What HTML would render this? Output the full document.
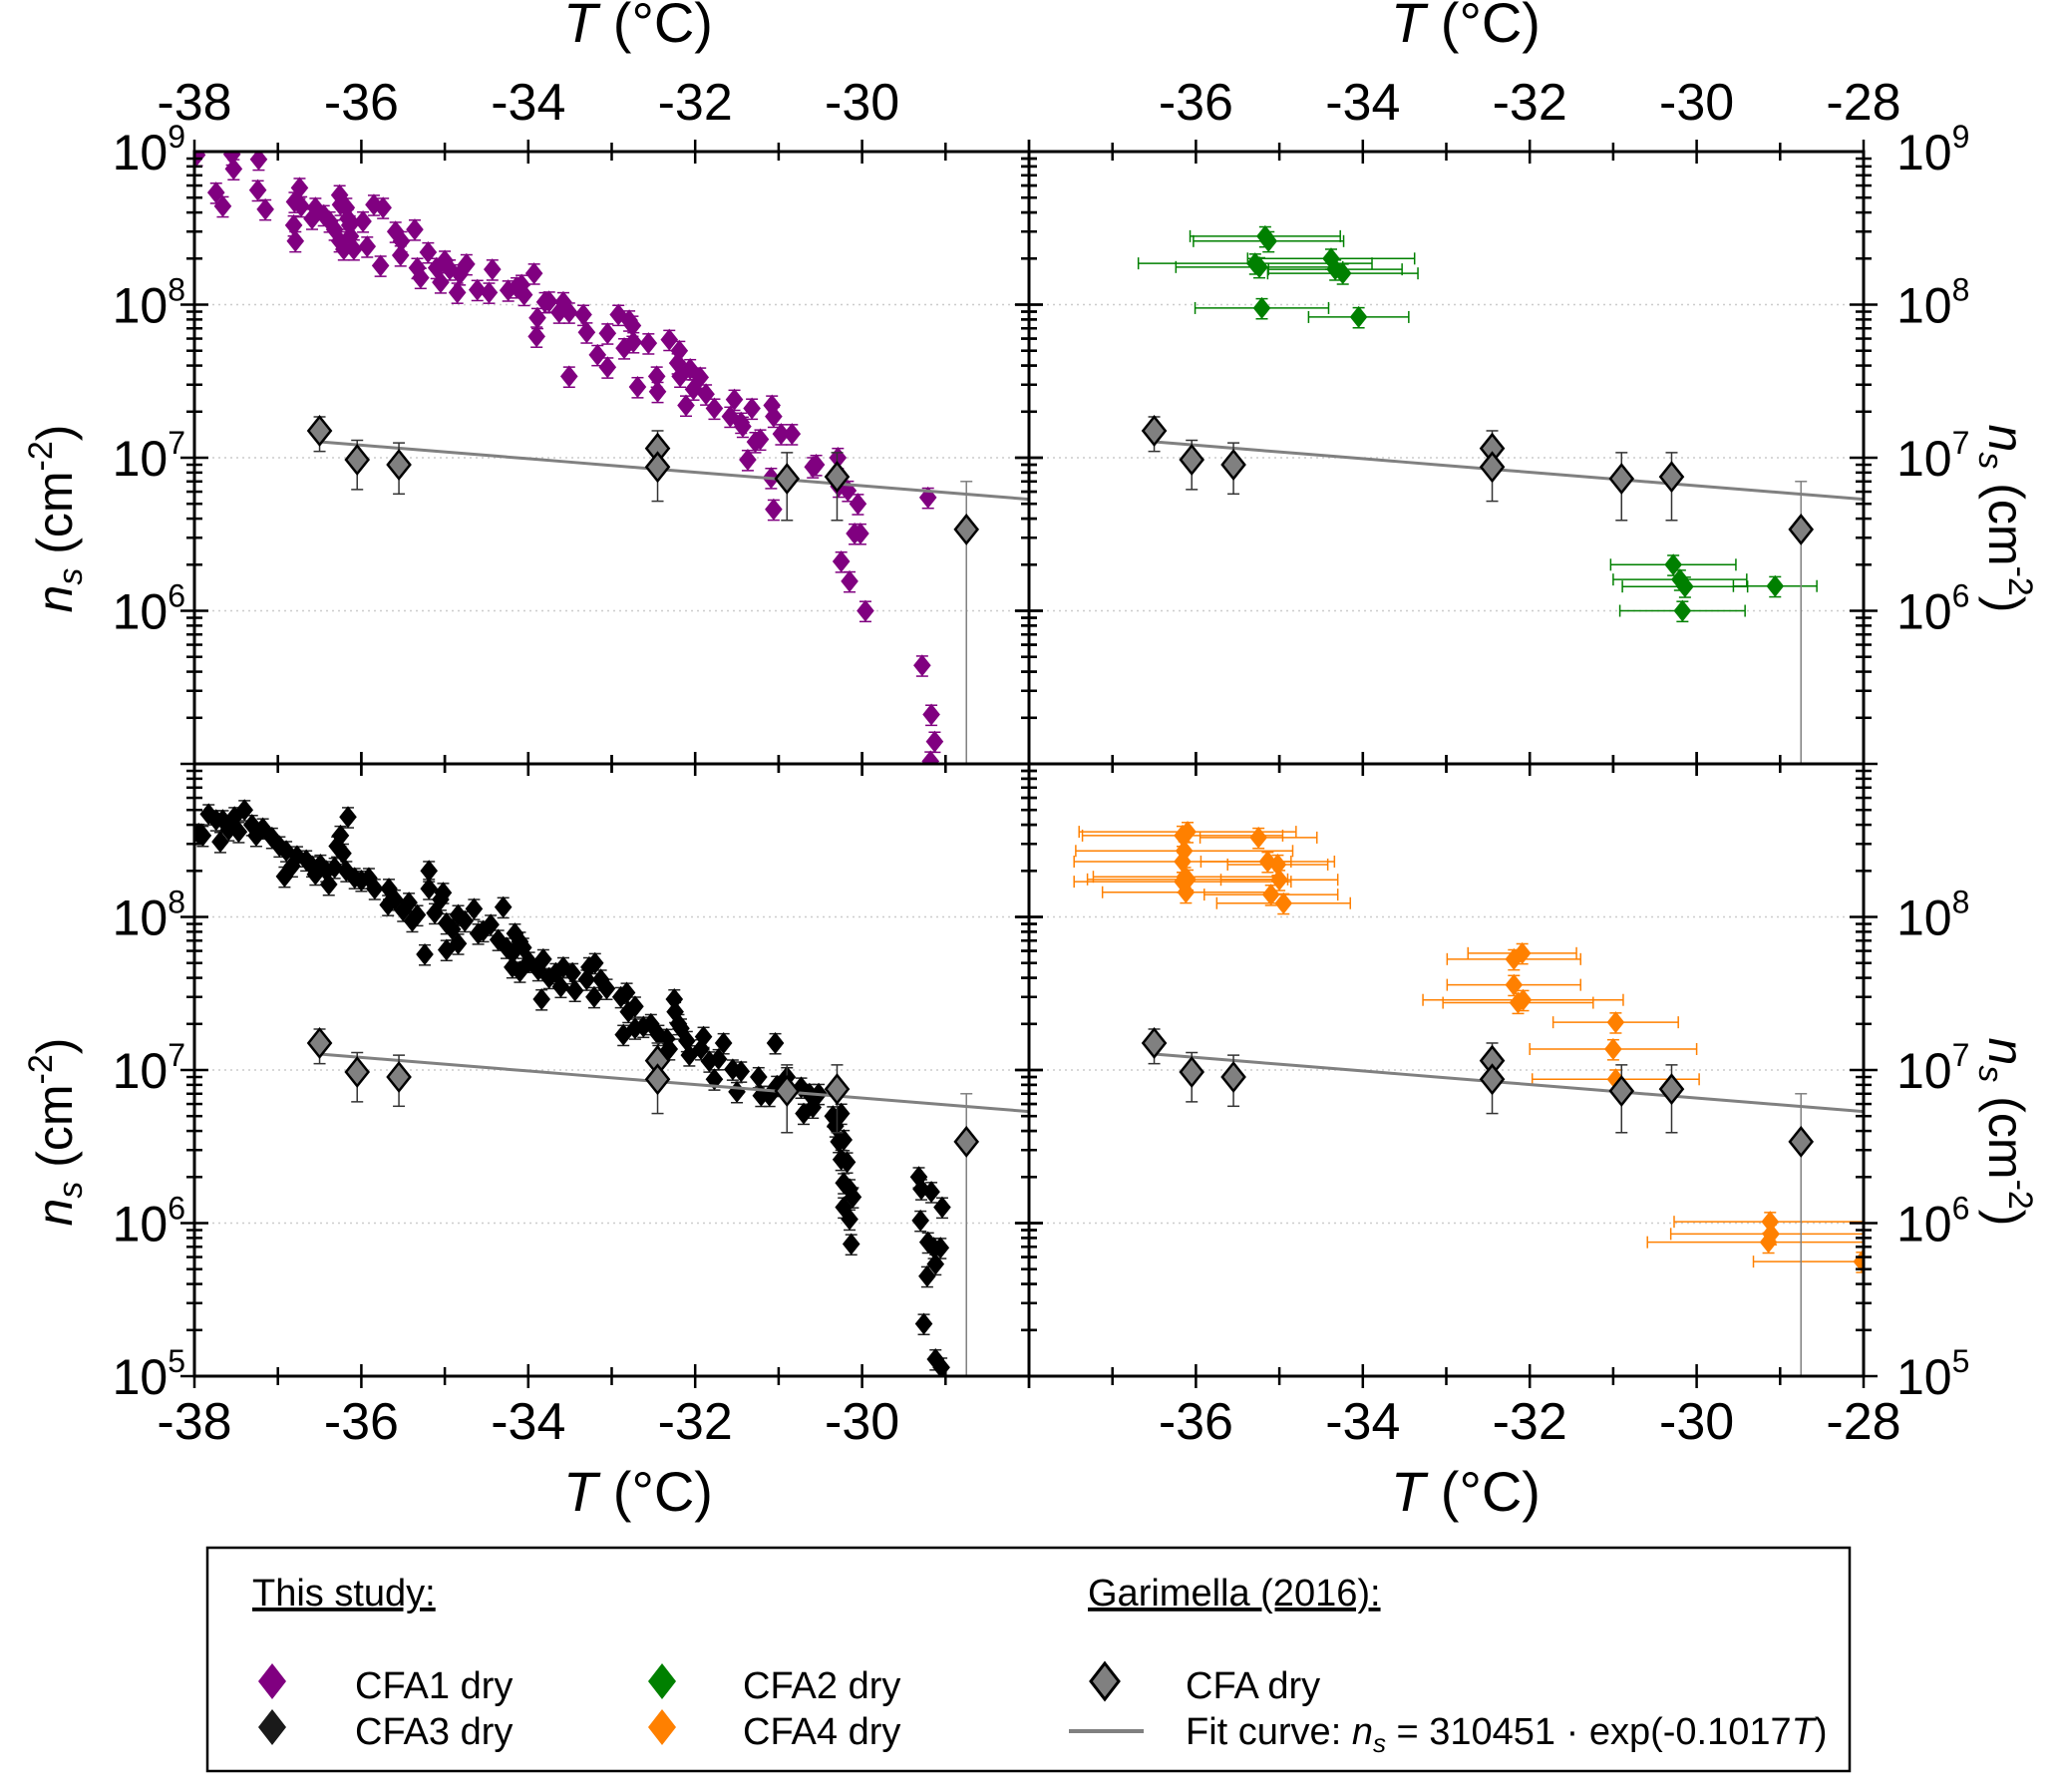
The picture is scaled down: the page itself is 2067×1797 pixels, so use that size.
<!DOCTYPE html>
<html><head><meta charset="utf-8"><style>
html,body{margin:0;padding:0;background:#fff;}
svg{display:block;font-family:"Liberation Sans",Arial,sans-serif;}
</style></head><body>
<svg id="chart" width="2067" height="1797" viewBox="0 0 2067 1797" xmlns="http://www.w3.org/2000/svg">
<g id="grid"></g>
<g id="series"></g>
<g id="axes"></g>
<g id="labels"></g>
<g id="legend">
  <rect x="208" y="1552" width="1647" height="224" fill="#fff" stroke="#000" stroke-width="2.5"/>
  <text x="253" y="1610" font-size="38" text-decoration="underline">This study:</text>
  <text x="1091" y="1610" font-size="38" text-decoration="underline">Garimella (2016):</text>
  <g><path d="M273,1668 l14,18 l-14,18 l-14,-18z" fill="#800080"/><text x="356" y="1703" font-size="38">CFA1 dry</text></g>
  <g><path d="M273,1714 l14,18 l-14,18 l-14,-18z" fill="#1a1a1a"/><text x="356" y="1749" font-size="38">CFA3 dry</text></g>
  <g><path d="M664,1668 l14,18 l-14,18 l-14,-18z" fill="#008000"/><text x="745" y="1703" font-size="38">CFA2 dry</text></g>
  <g><path d="M664,1714 l14,18 l-14,18 l-14,-18z" fill="#ff8000"/><text x="745" y="1749" font-size="38">CFA4 dry</text></g>
  <g><path d="M1108,1668 l14,18 l-14,18 l-14,-18z" fill="#808080" stroke="#000" stroke-width="3"/><text x="1189" y="1703" font-size="38">CFA dry</text></g>
  <g><line x1="1072" y1="1736" x2="1147" y2="1736" stroke="#808080" stroke-width="4"/><text x="1189" y="1749" font-size="38">Fit curve: <tspan font-style="italic">n</tspan><tspan font-size="26" dy="8" font-style="italic">s</tspan><tspan dy="-8"> = 310451 · exp(-0.1017</tspan><tspan font-style="italic">T</tspan>)</text></g>
</g>
</svg>
<script>
// ---- data ----
const garT = [-36.5, -36.05, -35.55, -32.45, -32.45, -30.9, -30.3, -28.75];
const garN = [1.5e7, 9.7e6, 9.0e6, 1.15e7, 8.7e6, 7.3e6, 7.5e6, 3.4e6];
const garLo = [1.1e7, 6.2e6, 5.8e6, 8.7e6, 5.2e6, 3.9e6, 3.9e6, 1e5];
const garHi = [1.85e7, 1.3e7, 1.25e7, 1.5e7, 1.15e7, 1.08e7, 1.08e7, 7.0e6];
const fitA = 310451;
const fitB = -0.1017;
const fitRange = [-36.5, -28];

const cfa1T = [-37.97,-37.74,-37.66,-37.55,-37.53,-37.23,-37.24,-37.15,-36.81,-36.79,-36.80,-36.74,-36.72,-36.59,-36.55,-36.45,-36.38,-36.32,-36.26,-36.25,-36.26,-36.21,-36.18,-36.16,-36.14,-36.13,-36.09,-35.98,-35.93,-35.85,-35.74,-35.77,-35.59,-35.52,-35.53,-35.36,-35.33,-35.29,-35.20,-35.10,-35.05,-35.00,-34.94,-34.82,-34.74,-34.85,-34.61,-34.47,-34.43,-34.24,-34.14,-34.08,-34.05,-33.93,-33.89,-33.90,-33.80,-33.75,-33.63,-33.58,-33.51,-33.51,-33.34,-33.30,-33.17,-33.05,-33.05,-32.92,-32.85,-32.79,-32.75,-32.74,-32.69,-32.56,-32.46,-32.45,-32.31,-32.19,-32.21,-32.18,-32.11,-32.06,-32.02,-31.94,-31.87,-31.77,-31.58,-31.53,-31.45,-31.43,-31.37,-31.32,-31.28,-31.22,-31.08,-31.06,-30.97,-30.84,-31.09,-31.06,-30.59,-30.55,-30.29,-30.28,-30.17,-30.05,-30.09,-30.02,-30.25,-30.15,-29.96,-29.28,-29.17,-29.13,-29.18,-29.21];
const cfa1N = [9.5e8,5.4e8,4.4e8,9.6e8,7.7e8,8.9e8,5.6e8,4.2e8,3.3e8,2.6e8,4.7e8,5.8e8,4.4e8,3.65e8,4.3e8,3.85e8,3.5e8,3.1e8,5.2e8,4.5e8,2.6e8,2.3e8,4.3e8,3.65e8,3.3e8,2.8e8,2.3e8,3.5e8,2.4e8,4.5e8,4.3e8,1.8e8,3.0e8,2.6e8,2.1e8,3.1e8,1.74e8,1.5e8,2.2e8,1.74e8,1.4e8,1.94e8,1.7e8,1.58e8,1.84e8,1.2e8,1.25e8,1.2e8,1.7e8,1.24e8,1.3e8,1.35e8,1.16e8,1.6e8,8.2e7,6.2e7,1.04e8,1.05e8,8.9e7,1.04e8,8.9e7,3.4e7,8.6e7,6.6e7,4.7e7,6.5e7,3.9e7,8.6e7,5.2e7,7.9e7,7.3e7,5.7e7,2.9e7,5.6e7,3.4e7,2.7e7,5.9e7,5.0e7,4.15e7,3.4e7,2.2e7,3.8e7,2.8e7,3.35e7,2.6e7,2.1e7,1.86e7,2.4e7,1.7e7,1.6e7,9.7e6,2.1e7,1.27e7,1.32e7,2.2e7,1.86e7,1.43e7,1.43e7,7.4e6,4.6e6,8.7e6,9.0e6,1.0e7,6.5e6,6.1e6,5.0e6,3.2e6,3.2e6,2.1e6,1.56e6,1.0e6,4.4e5,2.1e5,1.4e5,1.04e5,5.5e6];

const cfa3T = [-37.95,-37.90,-37.83,-37.74,-37.69,-37.66,-37.59,-37.52,-37.47,-37.40,-37.31,-37.26,-37.18,-37.07,-36.98,-36.90,-36.92,-36.83,-36.77,-36.66,-36.59,-36.55,-36.49,-36.42,-36.39,-36.32,-36.29,-36.25,-36.22,-36.16,-36.18,-36.08,-36.00,-35.91,-35.84,-35.68,-35.67,-35.60,-35.50,-35.43,-35.39,-35.33,-35.24,-35.19,-35.19,-35.12,-35.05,-35.02,-34.98,-34.98,-34.91,-34.84,-34.84,-34.76,-34.65,-34.60,-34.54,-34.45,-34.36,-34.30,-34.26,-34.19,-34.16,-34.10,-34.06,-34.19,-34.10,-33.99,-33.88,-33.84,-33.82,-33.75,-33.67,-33.61,-33.58,-33.47,-33.44,-33.30,-33.27,-33.20,-33.21,-33.13,-33.06,-32.89,-32.82,-32.72,-32.80,-32.86,-32.72,-32.62,-32.53,-32.44,-32.34,-32.31,-32.25,-32.24,-32.20,-32.17,-32.10,-32.07,-31.93,-31.90,-31.83,-31.77,-31.72,-31.66,-31.55,-31.50,-31.45,-31.24,-31.21,-31.11,-31.04,-31.02,-30.90,-30.73,-30.70,-30.63,-30.59,-30.52,-30.35,-30.32,-30.25,-30.28,-30.22,-30.25,-30.18,-30.22,-30.15,-30.11,-30.22,-30.15,-30.13,-29.32,-29.29,-29.17,-29.04,-29.30,-29.21,-29.14,-29.06,-29.12,-29.22,-29.26,-29.12,-29.05];
const cfa3N = [3.5e8,3.4e8,4.7e8,4.3e8,3.1e8,4.3e8,3.7e8,4.5e8,3.6e8,5.0e8,4.0e8,3.4e8,3.8e8,3.3e8,2.9e8,2.7e8,1.84e8,2.15e8,2.5e8,2.35e8,2.15e8,1.9e8,2.2e8,2.0e8,1.63e8,2.1e8,2.9e8,3.4e8,2.6e8,4.5e8,2.0e8,1.8e8,1.73e8,1.8e8,1.53e8,1.2e8,1.53e8,1.3e8,1.1e8,1.24e8,9.4e7,1.03e8,5.7e7,2.0e8,1.53e8,1.06e8,1.3e8,1.44e8,9.1e7,6.1e7,8.3e7,1.03e8,6.7e7,9.4e7,1.13e8,7.8e7,8.1e7,8.9e7,7.1e7,1.16e8,6.3e7,5.8e7,7.8e7,6.9e7,6.3e7,4.7e7,4.4e7,5.1e7,4.5e7,2.9e7,5.3e7,4.0e7,4.3e7,3.5e7,4.7e7,4.3e7,3.3e7,3.9e7,4.7e7,5.0e7,3.0e7,3.9e7,3.4e7,3.0e7,3.2e7,2.6e7,2.4e7,1.7e7,1.87e7,1.92e7,2.0e7,1.7e7,1.6e7,1.37e7,2.9e7,2.4e7,2.0e7,1.87e7,1.55e7,1.25e7,1.37e7,1.65e7,1.14e7,8.7e6,1.18e7,1.5e7,1.01e7,7.2e6,9.8e6,9.0e6,6.8e6,6.8e6,1.5e7,7.9e6,9.0e6,7.7e6,5.2e6,7.0e6,5.7e6,7.0e6,5.0e6,4.3e6,5.2e6,3.4e6,3.5e6,2.6e6,2.5e6,1.83e6,1.67e6,1.48e6,1.27e6,1.06e6,7.3e5,2.0e6,1.67e6,1.6e6,1.27e6,1.04e6,7.5e5,6.9e5,6.9e5,5.4e5,4.5e5,2.2e5,1.29e5,1.14e5];

const cfa2T = [-35.17,-35.13,-34.38,-34.33,-34.24,-35.29,-35.24,-35.21,-34.05,-30.28,-30.20,-30.14,-29.06,-30.17];
const cfa2N = [2.8e8,2.6e8,2.0e8,1.7e8,1.6e8,1.86e8,1.76e8,9.5e7,8.3e7,2.0e6,1.6e6,1.44e6,1.45e6,1.0e6];
const cfa2Terr = [0.9,0.9,1.0,0.8,0.9,1.4,1.0,0.8,0.6,0.75,0.8,0.75,0.5,0.75];

const cfa4T = [-36.10,-36.16,-36.14,-36.16,-36.13,-36.16,-36.10,-36.12,-35.25,-35.14,-35.02,-35.00,-35.10,-34.95,-32.09,-32.19,-32.19,-32.08,-32.14,-30.97,-31.00,-30.97,-29.12,-29.11,-29.14,-28.02];
const cfa4N = [3.6e8,3.4e8,2.7e8,2.3e8,1.83e8,1.7e8,1.76e8,1.45e8,3.3e8,2.3e8,2.2e8,1.75e8,1.4e8,1.23e8,5.8e7,5.3e7,3.6e7,2.87e7,2.75e7,2.05e7,1.37e7,8.7e6,1.02e6,8.5e5,7.5e5,5.6e5];
const cfa4Terr = [1.3,1.2,1.3,1.3,1.1,1.3,1.2,1.0,0.7,0.8,0.6,0.7,0.8,0.8,0.65,0.8,0.8,1.2,0.9,0.75,1.0,1.0,1.15,1.2,1.45,1.3];
const relErr = 0.15;

const xTicksTopLeft = [-38,-36,-34,-32,-30];
const xTicksTopRight = [-36,-34,-32,-30,-28];
const yTicksTop = [9,8,7,6];
const yTicksBottom = [8,7,6,5];

// ---- layout ----
const NS='http://www.w3.org/2000/svg';
const PX = [195, 1032];
const PW = 837;
const PY = [152, 766];
const PH = 614;
const TMIN=-38, TMAX=-28, LMIN=5, LMAX=9;
function xs(T, col){ return PX[col] + (T-TMIN)/(TMAX-TMIN)*PW; }
function ys(v, row){ return PY[row] + (LMAX-Math.log10(v))/(LMAX-LMIN)*PH; }
function mk(tag, attrs, parent){ const e=document.createElementNS(NS,tag); for(const k in attrs) e.setAttribute(k,attrs[k]); parent.appendChild(e); return e; }
const gGrid=document.getElementById('grid'), gSer=document.getElementById('series'), gAx=document.getElementById('axes'), gLab=document.getElementById('labels');

const defs=mk('defs',{},document.getElementById('chart'));
for(let r=0;r<2;r++)for(let c=0;c<2;c++){
  const cp=mk('clipPath',{id:'clip'+r+c},defs);
  mk('rect',{x:PX[c],y:PY[r],width:PW,height:PH},cp);
}
for(let r=0;r<2;r++)for(let c=0;c<2;c++)for(let L=6;L<=8;L++){
  const y=ys(Math.pow(10,L),r);
  const ln=mk('line',{x1:PX[c],x2:PX[c]+PW,y1:y,y2:y,stroke:'#ccc','stroke-width':1.5,'stroke-dasharray':'2,4'},gGrid);
  
  
}

function diamond(cx,cy,h,fill,stroke,parent,name){
  const p=mk('path',{d:`M${cx},${cy-h} L${cx+h*0.8},${cy} L${cx},${cy+h} L${cx-h*0.8},${cy}Z`,fill:fill},parent);
  if(stroke){p.setAttribute('stroke',stroke);p.setAttribute('stroke-width',2.5);}
  
  
}
function vErr(x,y1,y2,col,parent,w){
  mk('line',{x1:x,x2:x,y1:y1,y2:y2,stroke:col,'stroke-width':w||1.5},parent);
  mk('line',{x1:x-6,x2:x+6,y1:y1,y2:y1,stroke:col,'stroke-width':1.5},parent);
  mk('line',{x1:x-6,x2:x+6,y1:y2,y2:y2,stroke:col,'stroke-width':1.5},parent);
}
function hErr(x1,x2,y,col,parent){
  mk('line',{x1:x1,x2:x2,y1:y,y2:y,stroke:col,'stroke-width':1.5},parent);
  mk('line',{x1:x1,x2:x1,y1:y-6,y2:y+6,stroke:col,'stroke-width':1.5},parent);
  mk('line',{x1:x2,x2:x2,y1:y-6,y2:y+6,stroke:col,'stroke-width':1.5},parent);
}
function drawSeries(Ts,Ns,r,c,color,name,Terr){
  const g=mk('g',{'clip-path':`url(#clip${r}${c})`},gSer);
  
  
  const errCol = color==='#000'?'#222':color;
  Ts.forEach((T,i)=>{
    const x=xs(T,c), v=Ns[i];
    if(Terr) hErr(xs(T-Terr[i],c),xs(T+Terr[i],c),ys(v,r),errCol,g);
    vErr(x,ys(v*(1+relErr),r),ys(v*(1-relErr),r),errCol,g);
  });
  Ts.forEach((T,i)=>diamond(xs(T,c),ys(Ns[i],r),11,color,null,g,name+'-point'));
}
function drawGarimella(r,c){
  const g=mk('g',{'clip-path':`url(#clip${r}${c})`},gSer);
  
  
  let d='';
  for(let k=0;k<=20;k++){const T=fitRange[0]+(fitRange[1]-fitRange[0])*k/20; const v=fitA*Math.exp(fitB*T); d+=(k?'L':'M')+xs(T,c)+','+ys(v,r);}
  const fp=mk('path',{d:d,fill:'none',stroke:'#808080','stroke-width':3},g);
  
  
  garT.forEach((T,i)=>{ vErr(xs(T,c),ys(garHi[i],r),ys(garLo[i],r),i===7?'#808080':'#333',g,1.5); });
  garT.forEach((T,i)=>diamond(xs(T,c),ys(garN[i],r),14,'#808080','#000',g,'garimella-point'));
}
drawSeries(cfa1T,cfa1N,0,0,'#800080','cfa1');
drawGarimella(0,0);
drawSeries(cfa2T,cfa2N,0,1,'#008000','cfa2',cfa2Terr);
drawGarimella(0,1);
drawSeries(cfa3T,cfa3N,1,0,'#000','cfa3');
drawGarimella(1,0);
drawSeries(cfa4T,cfa4N,1,1,'#ff8000','cfa4',cfa4Terr);
drawGarimella(1,1);

for(let r=0;r<2;r++)for(let c=0;c<2;c++){
  const fr=mk('rect',{x:PX[c],y:PY[r],width:PW,height:PH,fill:'none',stroke:'#000','stroke-width':3},gAx);
  
  
  for(let T=TMIN;T<=TMAX;T++){
    const x=xs(T,c), big=(T%2===0);
    const len=big?12:9;
    mk('line',{x1:x,x2:x,y1:PY[r]-len,y2:PY[r]+len,stroke:'#000','stroke-width':2.5},gAx);
    mk('line',{x1:x,x2:x,y1:PY[r]+PH-len,y2:PY[r]+PH+len,stroke:'#000','stroke-width':2.5},gAx);
  }
  for(let L=LMIN;L<LMAX;L++)for(let m=1;m<10;m++){
    const y=ys(m*Math.pow(10,L),r);
    const len=m===1?14:8;
    [PX[c],PX[c]+PW].forEach(xx=>mk('line',{x1:xx-len,x2:xx+len,y1:y,y2:y,stroke:'#000','stroke-width':2.5},gAx));
  }
}
function txt(x,y,s,size,anchor,name){
  const t=mk('text',{x:x,y:y,'font-size':size,'text-anchor':anchor||'middle'},gLab);
  t.textContent=s;
  
  
  return t;
}
xTicksTopLeft.forEach(T=>{txt(xs(T,0),120,String(T),52,'middle','x-tick-label-top');txt(xs(T,0),1443,String(T),52,'middle','x-tick-label-bottom');});
xTicksTopRight.forEach(T=>{txt(xs(T,1),120,String(T),52,'middle','x-tick-label-top');txt(xs(T,1),1443,String(T),52,'middle','x-tick-label-bottom');});
function yLab(L,r,side){
  const y=ys(Math.pow(10,L),r);
  const t=mk('text',{'font-size':50,'text-anchor':side==='l'?'end':'start',x:side==='l'?186:1902,y:y+18},gLab);
  
  
  const a=mk('tspan',{},t); a.textContent='10';
  const b=mk('tspan',{'font-size':32,dy:-22},t); b.textContent=String(L);
}
yTicksTop.forEach(L=>{yLab(L,0,'l');yLab(L,0,'r');});
yTicksBottom.forEach(L=>{yLab(L,1,'l');yLab(L,1,'r');});
function tTitle(cx,y,name){
  const t=mk('text',{x:cx,y:y,'font-size':56,'text-anchor':'middle'},gLab);
  
  
  const a=mk('tspan',{'font-style':'italic'},t); a.textContent='T';
  const b=mk('tspan',{},t); b.textContent=' (°C)';
}
tTitle(640,42,'x-axis-title-top-left');tTitle(1470,42,'x-axis-title-top-right');
tTitle(640,1515,'x-axis-title-bottom-left');tTitle(1470,1515,'x-axis-title-bottom-right');
function yTitle(x,cy,rot,name){
  const t=mk('text',{x:0,y:0,'font-size':50,'text-anchor':'middle',transform:`translate(${x},${cy}) rotate(${rot})`},gLab);
  
  
  const a=mk('tspan',{'font-style':'italic'},t); a.textContent='n';
  const b=mk('tspan',{'font-size':34,dy:10,'font-style':'italic'},t); b.textContent='s';
  const c2=mk('tspan',{dy:-10},t); c2.textContent=' (cm';
  const d=mk('tspan',{'font-size':34,dy:-20},t); d.textContent='-2';
  const e=mk('tspan',{dy:20},t); e.textContent=')';
}
yTitle(72,520,-90,'y-axis-title-top-left');yTitle(72,1135,-90,'y-axis-title-bottom-left');
yTitle(1995,520,90,'y-axis-title-top-right');yTitle(1995,1135,90,'y-axis-title-bottom-right');
</script>
</body></html>
